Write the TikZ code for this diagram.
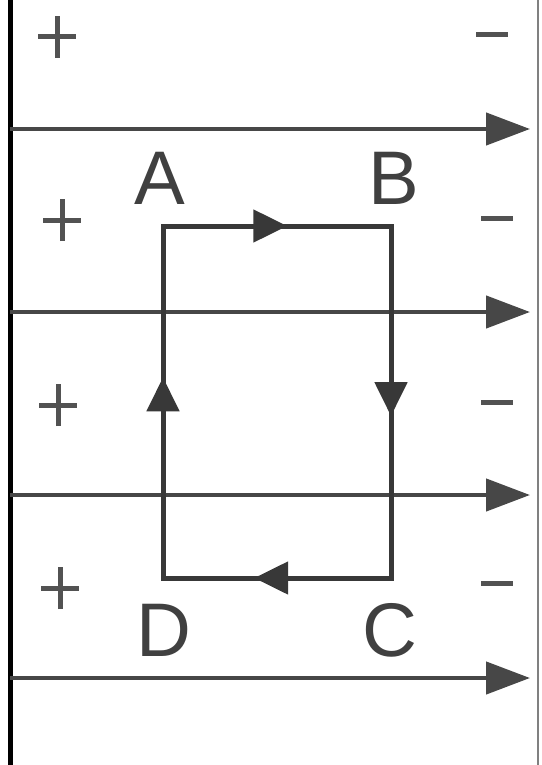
\documentclass[tikz,border=0pt]{standalone}
\usepackage{fontspec}
\setmainfont{Liberation Sans}
\usetikzlibrary{arrows.meta,decorations.markings}
\begin{document}
\begin{tikzpicture}[x=1pt,y=-1pt,
  field/.style={line width=4.5pt,draw=black!72,-{Triangle[length=44pt,width=32pt]}},
  wire/.style={line width=5pt,draw=black!78,line cap=rect},
  mid/.style={postaction={decorate},decoration={markings,mark=at position #1 with {\arrow{Triangle[length=34pt,width=32pt]}}}},
  sign/.style={line width=5pt,draw=black!68},
  lbl/.style={font=\fontsize{76}{76}\selectfont,text=black!75,inner sep=0pt}]
\useasboundingbox[fill=white] (0,0) rectangle (541,765);
% left plate and right edge
\coordinate (lt) at (10,0); \coordinate (lb) at (10,765);
\draw[line width=5pt,black] (lt) -- (lb);
\coordinate (rt) at (538,0); \coordinate (rb) at (538,765);
\draw[line width=2.5pt,black!50] (rt) -- (rb);
% field lines
\foreach \y/\n in {129/1,312/2,495/3,678/4}{
  \coordinate (fs\n) at (10,\y); \coordinate (fe\n) at (530,\y);
  \draw[field] (fs\n) -- (fe\n);
}
% plus signs
\foreach \x/\y/\n in {57/37/1,62/220/2,58/405/3,60/588/4}{
  \coordinate (p\n) at (\x,\y);
  \draw[sign] ([xshift=-19pt]p\n) -- ([xshift=19pt]p\n);
  \draw[sign] ([yshift=-21pt]p\n) -- ([yshift=21pt]p\n);
}
% minus signs
\foreach \x/\y/\n in {492/35/1,497/218/2,497/402/3,497/583/4}{
  \coordinate (m\n) at (\x,\y);
  \draw[sign] ([xshift=-16pt]m\n) -- ([xshift=16pt]m\n);
}
% loop
\coordinate (A) at (163,226);
\coordinate (B) at (391,226);
\coordinate (C) at (391,578);
\coordinate (D) at (163,578);
\draw[wire,mid=0.545] (A) -- (B);
\draw[wire,mid=0.54] (B) -- (C);
\draw[wire,mid=0.60] (C) -- (D);
\draw[wire,mid=0.57] (D) -- (A);
\node[lbl] (lA) at (160,178) {A};
\node[lbl] (lB) at (394,178) {B};
\node[lbl] (lC) at (390,630) {C};
\node[lbl] (lD) at (164,630) {D};
\end{tikzpicture}
\end{document}
